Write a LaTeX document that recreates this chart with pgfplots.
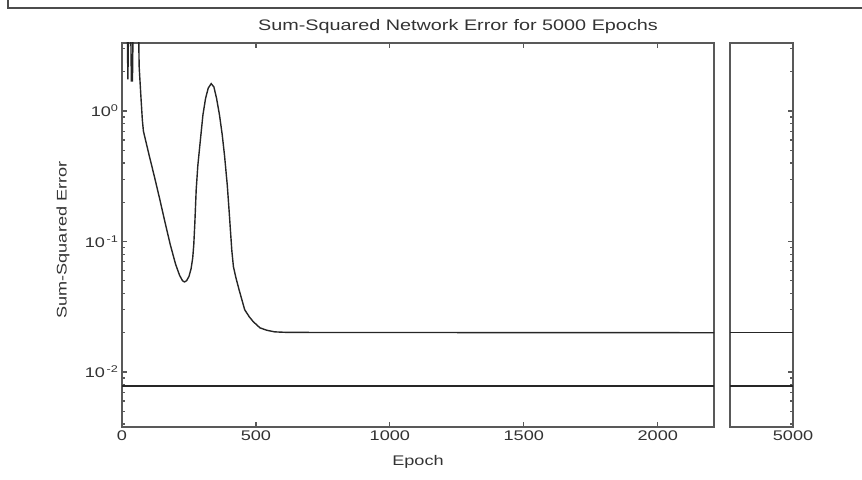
\documentclass[border=0pt]{standalone}
\usepackage{pgfplots}
\pgfplotsset{compat=1.18}
\usepackage{fontspec}
\setmainfont{Liberation Sans}[FakeStretch=1.3]

\definecolor{axgray}{gray}{0.35}
\definecolor{curve}{gray}{0.15}

% training error of the network, epoch by epoch (log scale)
\pgfplotstableread{
epoch  sse
0      8
18     8
22     1.75
26     8
31     8
35     1.7
39     1.7
43     8
60     8
64     2.2
70     1.35
76     0.85
80     0.70
100    0.47
120    0.32
140    0.215
160    0.142
180    0.095
200    0.067
215    0.055
226    0.050
233    0.049
241    0.050
250    0.054
258    0.062
264    0.075
268    0.095
272    0.14
277    0.25
283    0.38
290    0.53
302    0.93
312    1.25
322    1.50
333    1.62
343    1.53
353    1.25
364    0.93
374    0.66
383    0.45
393    0.27
400    0.17
405    0.12
410    0.085
416    0.064
426    0.052
438    0.042
458    0.030
475    0.0265
490    0.0243
515    0.0218
540    0.0209
570    0.0203
620    0.0201
2210   0.0200
}\errtable

\begin{document}
\begin{tikzpicture}[x=1bp,y=1bp]
\useasboundingbox (0,0) rectangle (862,480);
\draw[line width=2bp, black!70] (8,480) -- (8,472) -- (862,472);

\begin{axis}[
  scale only axis, anchor=south west,
  at={(122bp,53bp)}, width=592bp, height=384bp,
  ymode=log, ymin=0.00379, ymax=3.32,
  xmin=0, xmax=2210,
  axis line style={axgray, line width=1.6bp},
  every tick/.style={axgray, line width=1.2bp},
  tick align=inside,
  major tick length=5bp, minor tick length=3bp,
  xtick={0,500,1000,1500,2000},
  xticklabels={0,500,1000,1500,2000},
  ytick={0.01,0.1,1},
  minor ytick={0.004,0.005,0.006,0.007,0.008,0.009,
               0.02,0.03,0.04,0.05,0.06,0.07,0.08,0.09,
               0.2,0.3,0.4,0.5,0.6,0.7,0.8,0.9,2,3},
  yticklabels={10\textsuperscript{\,-2},10\textsuperscript{\,-1},10\textsuperscript{0}},
  xtick pos=both, ytick pos=left,
  xticklabel pos=lower,
  tick label style={font=\fontsize{14}{16}\selectfont, text=black!80},
]
\addplot[curve, line width=1.4bp] table[x=epoch, y=sse] {\errtable};
\addplot[curve, line width=1.2bp] coordinates {(0,0.0078) (2210,0.0078)};
\end{axis}

\begin{axis}[
  scale only axis, anchor=south west,
  at={(730bp,53bp)}, width=63bp, height=384bp,
  ymode=log, ymin=0.00379, ymax=3.32,
  xmin=4760, xmax=5000,
  axis line style={axgray, line width=1.6bp},
  every tick/.style={axgray, line width=1.2bp},
  tick align=inside,
  major tick length=5bp, minor tick length=3bp,
  xtick={5000}, xticklabels={5000},
  ytick={0.01,0.1,1},
  minor ytick={0.004,0.005,0.006,0.007,0.008,0.009,
               0.02,0.03,0.04,0.05,0.06,0.07,0.08,0.09,
               0.2,0.3,0.4,0.5,0.6,0.7,0.8,0.9,2,3},
  yticklabels={},
  xtick pos=both, ytick pos=right,
  xticklabel pos=lower,
  tick label style={font=\fontsize{14}{16}\selectfont, text=black!80},
]
\addplot[curve, line width=1.4bp] coordinates {(4760,0.0200) (5000,0.0200)};
\addplot[curve, line width=1.2bp] coordinates {(4760,0.0078) (5000,0.0078)};
\end{axis}

\node[font=\fontsize{15.3}{17}\selectfont, text=black!80, anchor=base] at (458,449)
  {Sum-Squared Network Error for 5000 Epochs};
\node[font=\fontsize{14}{16}\selectfont, text=black!80] at (418,18) {Epoch};
\node[font=\fontsize{14}{16}\selectfont, text=black!80, rotate=90] at (63,240)
  {Sum-Squared Error};
\end{tikzpicture}
\end{document}
